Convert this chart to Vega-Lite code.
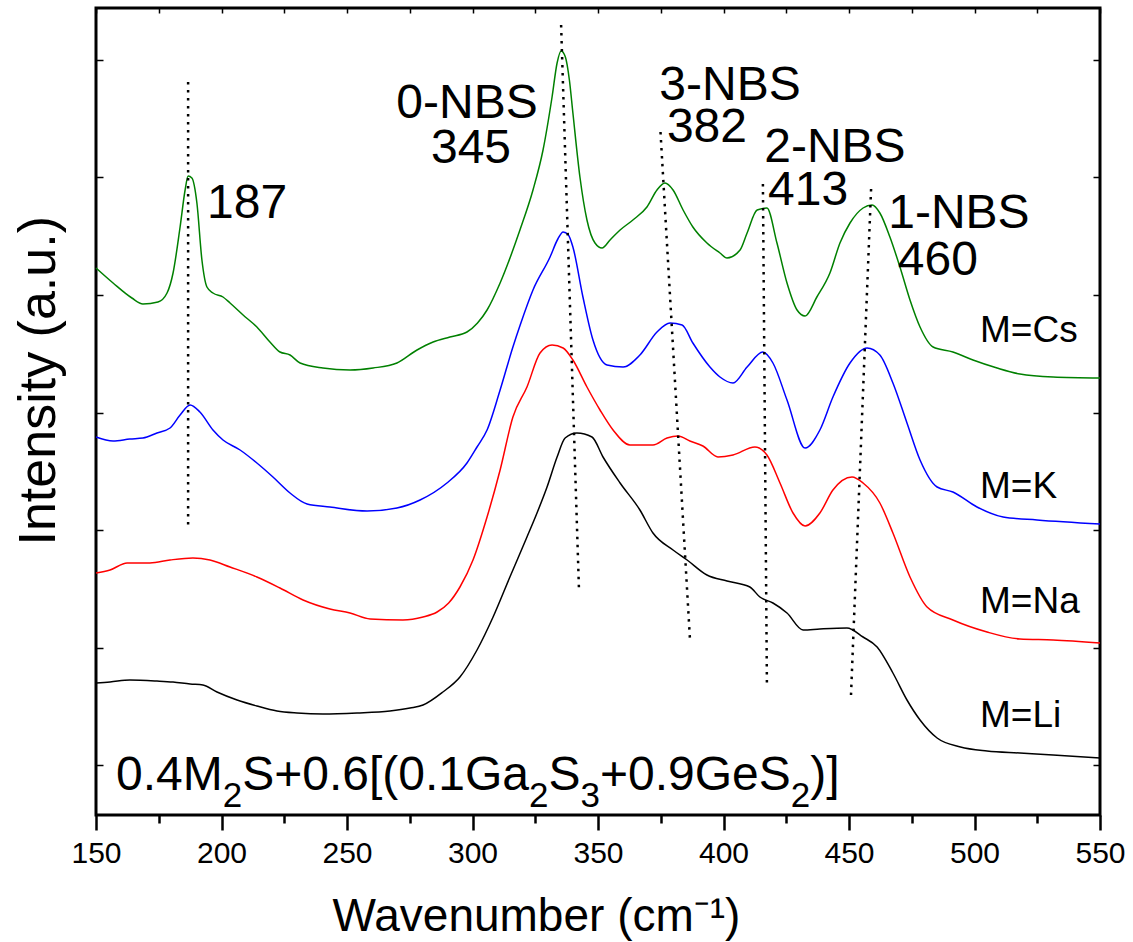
{
  "$schema": "https://vega.github.io/schema/vega-lite/v6.json",
  "width": 1004,
  "height": 807,
  "autosize": {"type": "none"},
  "padding": {"left": 96, "top": 8, "right": 33, "bottom": 127},
  "background": "white",
  "config": {
    "view": {"stroke": "black", "strokeWidth": 3},
    "font": "Liberation Sans",
    "axis": {"labelFont": "Liberation Sans", "titleFont": "Liberation Sans", "labelColor": "black", "titleColor": "black", "tickColor": "black", "titleFontWeight": "normal", "grid": false, "domain": false, "labelFlush": false, "labelOverlap": false}
  },
  "datasets": {
    "spectra": [
      {"s":"Cs","w":150.0,"i":547},{"s":"Cs","w":156.8,"i":532},{"s":"Cs","w":164.3,"i":517},{"s":"Cs","w":168.7,"i":511},{"s":"Cs","w":174.7,"i":513},{"s":"Cs","w":178.3,"i":522},{"s":"Cs","w":180.7,"i":542},{"s":"Cs","w":183.5,"i":588},{"s":"Cs","w":185.5,"i":625},{"s":"Cs","w":186.7,"i":639},{"s":"Cs","w":188.2,"i":637},{"s":"Cs","w":190.2,"i":612},{"s":"Cs","w":192.2,"i":555},{"s":"Cs","w":194.2,"i":528},{"s":"Cs","w":196.6,"i":522},{"s":"Cs","w":200.6,"i":518},{"s":"Cs","w":203.4,"i":512},{"s":"Cs","w":208.6,"i":500},{"s":"Cs","w":214.1,"i":488},{"s":"Cs","w":219.3,"i":473},{"s":"Cs","w":223.3,"i":463},{"s":"Cs","w":227.3,"i":460},{"s":"Cs","w":231.3,"i":452},{"s":"Cs","w":240.4,"i":447},{"s":"Cs","w":251.2,"i":445},{"s":"Cs","w":260.4,"i":447},{"s":"Cs","w":269.9,"i":452},{"s":"Cs","w":277.9,"i":465},{"s":"Cs","w":284.3,"i":473},{"s":"Cs","w":291.0,"i":478},{"s":"Cs","w":297.8,"i":483},{"s":"Cs","w":302.0,"i":492},{"s":"Cs","w":305.8,"i":505},{"s":"Cs","w":311.0,"i":532},{"s":"Cs","w":318.9,"i":585},{"s":"Cs","w":324.1,"i":625},{"s":"Cs","w":328.1,"i":665},{"s":"Cs","w":331.7,"i":718},{"s":"Cs","w":333.7,"i":752},{"s":"Cs","w":335.3,"i":764},{"s":"Cs","w":337.0,"i":758},{"s":"Cs","w":338.6,"i":735},{"s":"Cs","w":340.0,"i":702},{"s":"Cs","w":342.8,"i":638},{"s":"Cs","w":345.6,"i":595},{"s":"Cs","w":348.8,"i":572},{"s":"Cs","w":351.6,"i":567},{"s":"Cs","w":354.8,"i":575},{"s":"Cs","w":358.8,"i":585},{"s":"Cs","w":363.9,"i":595},{"s":"Cs","w":369.5,"i":608},{"s":"Cs","w":373.5,"i":625},{"s":"Cs","w":376.7,"i":632},{"s":"Cs","w":379.9,"i":625},{"s":"Cs","w":383.9,"i":605},{"s":"Cs","w":387.8,"i":588},{"s":"Cs","w":393.4,"i":572},{"s":"Cs","w":398.6,"i":562},{"s":"Cs","w":401.4,"i":557},{"s":"Cs","w":406.6,"i":565},{"s":"Cs","w":409.4,"i":582},{"s":"Cs","w":413.4,"i":605},{"s":"Cs","w":417.3,"i":607},{"s":"Cs","w":421.3,"i":572},{"s":"Cs","w":425.3,"i":532},{"s":"Cs","w":429.3,"i":505},{"s":"Cs","w":432.5,"i":499},{"s":"Cs","w":437.2,"i":518},{"s":"Cs","w":442.4,"i":542},{"s":"Cs","w":446.4,"i":572},{"s":"Cs","w":450.4,"i":592},{"s":"Cs","w":455.6,"i":607},{"s":"Cs","w":459.2,"i":610},{"s":"Cs","w":462.3,"i":602},{"s":"Cs","w":466.3,"i":578},{"s":"Cs","w":470.3,"i":548},{"s":"Cs","w":474.3,"i":515},{"s":"Cs","w":478.3,"i":488},{"s":"Cs","w":483.5,"i":468},{"s":"Cs","w":491.4,"i":463},{"s":"Cs","w":499.4,"i":455},{"s":"Cs","w":509.0,"i":447},{"s":"Cs","w":518.1,"i":441},{"s":"Cs","w":531.3,"i":438},{"s":"Cs","w":550.0,"i":437},
      {"s":"K","w":150.0,"i":378},{"s":"K","w":156.8,"i":374},{"s":"K","w":163.5,"i":376},{"s":"K","w":168.7,"i":377},{"s":"K","w":174.3,"i":382},{"s":"K","w":179.5,"i":387},{"s":"K","w":183.5,"i":400},{"s":"K","w":187.5,"i":410},{"s":"K","w":191.4,"i":403},{"s":"K","w":196.6,"i":385},{"s":"K","w":200.6,"i":375},{"s":"K","w":207.4,"i":365},{"s":"K","w":214.1,"i":352},{"s":"K","w":220.5,"i":338},{"s":"K","w":227.3,"i":322},{"s":"K","w":234.1,"i":311},{"s":"K","w":243.2,"i":308},{"s":"K","w":258.0,"i":304},{"s":"K","w":269.9,"i":307},{"s":"K","w":279.1,"i":315},{"s":"K","w":289.8,"i":332},{"s":"K","w":297.8,"i":352},{"s":"K","w":301.8,"i":368},{"s":"K","w":305.8,"i":385},{"s":"K","w":311.0,"i":425},{"s":"K","w":316.1,"i":468},{"s":"K","w":319.0,"i":490},{"s":"K","w":324.1,"i":525},{"s":"K","w":330.9,"i":558},{"s":"K","w":334.0,"i":576},{"s":"K","w":336.1,"i":583},{"s":"K","w":338.2,"i":580},{"s":"K","w":340.0,"i":568},{"s":"K","w":344.0,"i":518},{"s":"K","w":348.0,"i":475},{"s":"K","w":353.6,"i":450},{"s":"K","w":360.0,"i":448},{"s":"K","w":366.7,"i":460},{"s":"K","w":373.5,"i":483},{"s":"K","w":378.7,"i":492},{"s":"K","w":383.5,"i":490},{"s":"K","w":387.8,"i":472},{"s":"K","w":394.6,"i":448},{"s":"K","w":398.6,"i":438},{"s":"K","w":403.8,"i":432},{"s":"K","w":409.4,"i":448},{"s":"K","w":415.7,"i":463},{"s":"K","w":419.7,"i":452},{"s":"K","w":425.3,"i":415},{"s":"K","w":432.5,"i":367},{"s":"K","w":438.4,"i":385},{"s":"K","w":443.6,"i":418},{"s":"K","w":450.4,"i":452},{"s":"K","w":457.2,"i":467},{"s":"K","w":462.3,"i":460},{"s":"K","w":467.5,"i":432},{"s":"K","w":473.1,"i":392},{"s":"K","w":478.3,"i":355},{"s":"K","w":485.1,"i":328},{"s":"K","w":491.4,"i":323},{"s":"K","w":501.0,"i":308},{"s":"K","w":511.4,"i":298},{"s":"K","w":524.9,"i":295},{"s":"K","w":550.0,"i":291},
      {"s":"Na","w":150.0,"i":242},{"s":"Na","w":155.6,"i":245},{"s":"Na","w":162.4,"i":252},{"s":"Na","w":171.5,"i":252},{"s":"Na","w":179.5,"i":255},{"s":"Na","w":188.6,"i":257},{"s":"Na","w":195.4,"i":255},{"s":"Na","w":203.4,"i":248},{"s":"Na","w":214.1,"i":238},{"s":"Na","w":223.3,"i":227},{"s":"Na","w":232.5,"i":215},{"s":"Na","w":243.2,"i":206},{"s":"Na","w":251.2,"i":202},{"s":"Na","w":259.2,"i":196},{"s":"Na","w":272.3,"i":195},{"s":"Na","w":280.3,"i":198},{"s":"Na","w":285.9,"i":203},{"s":"Na","w":290.5,"i":212},{"s":"Na","w":295.0,"i":228},{"s":"Na","w":300.2,"i":255},{"s":"Na","w":305.8,"i":298},{"s":"Na","w":311.0,"i":345},{"s":"Na","w":316.1,"i":398},{"s":"Na","w":321.7,"i":428},{"s":"Na","w":326.9,"i":462},{"s":"Na","w":331.7,"i":470},{"s":"Na","w":336.1,"i":467},{"s":"Na","w":340.0,"i":455},{"s":"Na","w":345.6,"i":428},{"s":"Na","w":350.8,"i":405},{"s":"Na","w":356.0,"i":385},{"s":"Na","w":362.7,"i":370},{"s":"Na","w":371.9,"i":370},{"s":"Na","w":377.5,"i":377},{"s":"Na","w":381.9,"i":379},{"s":"Na","w":386.6,"i":374},{"s":"Na","w":391.8,"i":369},{"s":"Na","w":397.8,"i":358},{"s":"Na","w":403.8,"i":360},{"s":"Na","w":412.5,"i":368},{"s":"Na","w":417.3,"i":360},{"s":"Na","w":422.5,"i":332},{"s":"Na","w":427.7,"i":302},{"s":"Na","w":432.5,"i":289},{"s":"Na","w":438.4,"i":302},{"s":"Na","w":443.6,"i":325},{"s":"Na","w":451.2,"i":338},{"s":"Na","w":455.6,"i":332},{"s":"Na","w":462.3,"i":312},{"s":"Na","w":467.5,"i":282},{"s":"Na","w":474.3,"i":238},{"s":"Na","w":481.1,"i":208},{"s":"Na","w":491.4,"i":195},{"s":"Na","w":505.0,"i":183},{"s":"Na","w":518.1,"i":176},{"s":"Na","w":531.3,"i":175},{"s":"Na","w":550.0,"i":172},
      {"s":"Li","w":150.0,"i":132},{"s":"Li","w":155.6,"i":133},{"s":"Li","w":163.5,"i":135},{"s":"Li","w":174.3,"i":134},{"s":"Li","w":180.7,"i":133},{"s":"Li","w":187.5,"i":131},{"s":"Li","w":192.6,"i":130},{"s":"Li","w":198.2,"i":123},{"s":"Li","w":206.2,"i":115},{"s":"Li","w":214.1,"i":109},{"s":"Li","w":222.1,"i":104},{"s":"Li","w":230.1,"i":102},{"s":"Li","w":240.4,"i":101},{"s":"Li","w":254.0,"i":102},{"s":"Li","w":267.1,"i":104},{"s":"Li","w":275.1,"i":107},{"s":"Li","w":280.3,"i":110},{"s":"Li","w":288.2,"i":123},{"s":"Li","w":295.0,"i":138},{"s":"Li","w":301.8,"i":165},{"s":"Li","w":308.2,"i":198},{"s":"Li","w":314.9,"i":238},{"s":"Li","w":321.7,"i":278},{"s":"Li","w":325.7,"i":302},{"s":"Li","w":329.7,"i":328},{"s":"Li","w":333.7,"i":358},{"s":"Li","w":336.9,"i":377},{"s":"Li","w":341.6,"i":382},{"s":"Li","w":347.6,"i":378},{"s":"Li","w":352.0,"i":358},{"s":"Li","w":358.8,"i":332},{"s":"Li","w":366.7,"i":305},{"s":"Li","w":371.9,"i":282},{"s":"Li","w":379.9,"i":265},{"s":"Li","w":385.5,"i":255},{"s":"Li","w":393.4,"i":240},{"s":"Li","w":401.4,"i":234},{"s":"Li","w":410.5,"i":228},{"s":"Li","w":414.5,"i":218},{"s":"Li","w":419.7,"i":212},{"s":"Li","w":425.3,"i":202},{"s":"Li","w":431.7,"i":185},{"s":"Li","w":438.4,"i":186},{"s":"Li","w":449.2,"i":187},{"s":"Li","w":455.6,"i":178},{"s":"Li","w":461.2,"i":168},{"s":"Li","w":467.5,"i":142},{"s":"Li","w":473.1,"i":115},{"s":"Li","w":478.3,"i":95},{"s":"Li","w":485.1,"i":77},{"s":"Li","w":494.4,"i":68},{"s":"Li","w":505.0,"i":64},{"s":"Li","w":518.1,"i":62},{"s":"Li","w":531.3,"i":60},{"s":"Li","w":550.0,"i":57}
    ],
    "guides": [
      {"g":"187","o":1,"w":186.7,"i":733},{"g":"187","o":2,"w":186.7,"i":285},
      {"g":"0-NBS","o":1,"w":335.3,"i":790},{"g":"0-NBS","o":2,"w":342.4,"i":227},
      {"g":"3-NBS","o":1,"w":374.9,"i":683},{"g":"3-NBS","o":2,"w":386.7,"i":173},
      {"g":"2-NBS","o":1,"w":415.7,"i":631},{"g":"2-NBS","o":2,"w":417.3,"i":130},
      {"g":"1-NBS","o":1,"w":458.8,"i":626},{"g":"1-NBS","o":2,"w":450.8,"i":120}
    ],
    "peaklabels": [
      {"t":"187","w":210.2,"i":597},
      {"t":"0-NBS","w":297.8,"i":697},
      {"t":"345","w":299.4,"i":652},
      {"t":"3-NBS","w":402.6,"i":715},
      {"t":"382","w":393.4,"i":673},
      {"t":"2-NBS","w":444.4,"i":653},
      {"t":"413","w":433.7,"i":610},
      {"t":"1-NBS","w":493.8,"i":587},
      {"t":"460","w":485.4,"i":540}
    ],
    "serieslabels": [
      {"t":"M=Cs","w":502.2,"i":473},
      {"t":"M=K","w":502.2,"i":317},
      {"t":"M=Na","w":502.2,"i":202},
      {"t":"M=Li","w":502.2,"i":88}
    ],
    "formulamain": [
      {"t":"0.4M","w":157.97,"i":25},
      {"t":"S+0.6[(0.1Ga","w":208.25,"i":25},
      {"t":"S","w":330.28,"i":25},
      {"t":"+0.9GeS","w":350.80,"i":25},
      {"t":")]","w":434.58,"i":25}
    ],
    "formulasub": [
      {"t":"2","w":200.48,"i":8},
      {"t":"2","w":322.51,"i":8},
      {"t":"3","w":343.03,"i":8},
      {"t":"2","w":426.81,"i":8}
    ]
  },
  "resolve": {"axis": {"x": "independent", "y": "independent"}},
  "layer": [
    {
      "data": {"name": "spectra"},
      "mark": {"type": "line", "strokeWidth": 1.5, "interpolate": "monotone"},
      "encoding": {
        "x": {"field": "w", "type": "quantitative", "scale": {"domain": [150, 550], "nice": false, "zero": false},
              "axis": {"orient": "bottom", "values": [150, 200, 250, 300, 350, 400, 450, 500, 550], "tickSize": 15, "tickWidth": 2.5, "labelFontSize": 30, "labelPadding": 8, "title": "Wavenumber (cm⁻¹)", "titleFontSize": 46, "titleAlign": "left", "titleAnchor": null, "titleX": 236, "titleY": 115, "titleBaseline": "alphabetic"}},
        "y": {"field": "i", "type": "quantitative", "scale": {"domain": [0, 807], "nice": false, "zero": false},
              "axis": {"orient": "left", "values": [50, 167.5, 285, 402.5, 520, 637.5, 755], "tickSize": -7, "tickWidth": 1.5, "labels": false, "title": "Intensity (a.u.)", "titleFontSize": 52, "titleAngle": -90, "titleAlign": "left", "titleBaseline": "alphabetic", "titleX": -42, "titleY": 537}},
        "color": {"field": "s", "type": "nominal", "scale": {"domain": ["Cs", "K", "Na", "Li"], "range": ["#008000", "#0000ff", "#ff0000", "#000000"]}, "legend": null}
      }
    },
    {
      "data": {"name": "guides"},
      "mark": {"type": "line", "strokeWidth": 2.5, "strokeDash": [2.5, 5.5], "color": "black"},
      "encoding": {
        "x": {"field": "w", "type": "quantitative",
              "axis": {"orient": "bottom", "values": [175, 225, 275, 325, 375, 425, 475, 525], "tickSize": 8, "tickWidth": 2.5, "labels": false, "title": null}},
        "y": {"field": "i", "type": "quantitative",
              "axis": {"orient": "right", "values": [50, 167.5, 285, 402.5, 520, 637.5, 755], "tickSize": -7, "tickWidth": 1.5, "labels": false, "title": null}},
        "detail": {"field": "g"},
        "order": {"field": "o"}
      }
    },
    {
      "data": {"name": "peaklabels"},
      "mark": {"type": "text", "fontSize": 48, "font": "Liberation Sans", "align": "center", "baseline": "alphabetic", "color": "black"},
      "encoding": {
        "x": {"field": "w", "type": "quantitative",
              "axis": {"orient": "top", "values": [150, 175, 200, 225, 250, 275, 300, 325, 350, 375, 400, 425, 450, 475, 500, 525, 550], "tickSize": -5, "tickWidth": 1.5, "labels": false, "title": null}},
        "y": {"field": "i", "type": "quantitative", "axis": null},
        "text": {"field": "t"}
      }
    },
    {
      "data": {"name": "serieslabels"},
      "mark": {"type": "text", "fontSize": 37, "font": "Liberation Sans", "align": "left", "baseline": "alphabetic", "color": "black"},
      "encoding": {
        "x": {"field": "w", "type": "quantitative", "axis": null},
        "y": {"field": "i", "type": "quantitative", "axis": null},
        "text": {"field": "t"}
      }
    },
    {
      "data": {"name": "formulamain"},
      "mark": {"type": "text", "fontSize": 48, "font": "Liberation Sans", "align": "left", "baseline": "alphabetic", "color": "black"},
      "encoding": {
        "x": {"field": "w", "type": "quantitative", "axis": null},
        "y": {"field": "i", "type": "quantitative", "axis": null},
        "text": {"field": "t"}
      }
    },
    {
      "data": {"name": "formulasub"},
      "mark": {"type": "text", "fontSize": 35, "font": "Liberation Sans", "align": "left", "baseline": "alphabetic", "color": "black"},
      "encoding": {
        "x": {"field": "w", "type": "quantitative", "axis": null},
        "y": {"field": "i", "type": "quantitative", "axis": null},
        "text": {"field": "t"}
      }
    }
  ]
}
